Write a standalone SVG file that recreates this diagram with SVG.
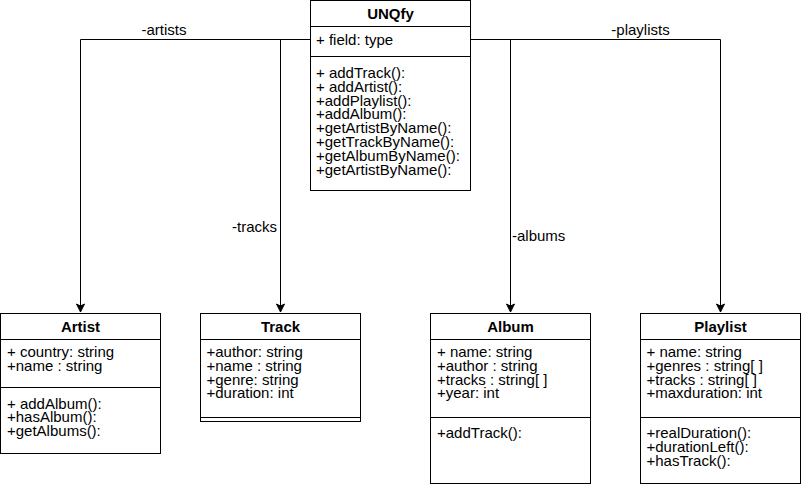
<svg xmlns="http://www.w3.org/2000/svg" width="801" height="487" viewBox="0 0 801 487">
<style>
.box{fill:#fff;stroke:#000;stroke-width:1}
.div{stroke:#000;stroke-width:1;fill:none}
.t{font-family:"Liberation Sans",Arial,sans-serif;font-size:15px;fill:#000}
.h{font-family:"Liberation Sans",Arial,sans-serif;font-size:15px;font-weight:bold;fill:#000;text-anchor:middle}
.edge{fill:none;stroke:#000;stroke-width:1}
.lbl{font-family:"Liberation Sans",Arial,sans-serif;font-size:15px;fill:#000}
</style>
<defs>
<marker id="arr" markerWidth="10" markerHeight="10" viewBox="0 0 10 10" refX="9" refY="5" orient="auto" markerUnits="userSpaceOnUse">
<path d="M1,1 L9,5 L1,9 L3,5 Z" fill="#000" stroke="#000" stroke-width="1"/>
</marker>
</defs>
<rect width="801" height="487" fill="#fff"/>
<g id="connectors">
<path class="edge" d="M310.5,39.5 H80.5 V312" marker-end="url(#arr)"/>
<path class="edge" d="M310.5,39.5 H280.5 V312" marker-end="url(#arr)"/>
<path class="edge" d="M470.5,39.5 H510.5 V312" marker-end="url(#arr)"/>
<path class="edge" d="M470.5,39.5 H720.5 V312" marker-end="url(#arr)"/>
<text class="lbl" x="164" y="35" text-anchor="middle">-artists</text>
<text class="lbl" x="277" y="232" text-anchor="end">-tracks</text>
<text class="lbl" x="512" y="241">-albums</text>
<text class="lbl" x="640.5" y="35" text-anchor="middle">-playlists</text>
</g>
<g id="UNQfy">
<rect class="box" x="310.5" y="0.5" width="160" height="190"/>
<path class="div" d="M310.5,26.5 H470.5 M310.5,56.5 H470.5"/>
<text class="h" x="390.5" y="18.5">UNQfy</text>
<text class="t" x="316" y="44.5">+ field: type</text>
<text class="t" y="78"><tspan x="316">+ addTrack():</tspan><tspan x="316" dy="13.8">+ addArtist():</tspan><tspan x="316" dy="13.8">+addPlaylist():</tspan><tspan x="316" dy="13.8">+addAlbum():</tspan><tspan x="316" dy="13.8">+getArtistByName():</tspan><tspan x="316" dy="13.8">+getTrackByName():</tspan><tspan x="316" dy="13.8">+getAlbumByName():</tspan><tspan x="316" dy="13.8">+getArtistByName():</tspan></text>
</g>
<g id="Artist">
<rect class="box" x="0.5" y="313.5" width="160" height="140"/>
<path class="div" d="M0.5,339.5 H160.5 M0.5,387.5 H160.5"/>
<text class="h" x="80.5" y="331.5">Artist</text>
<text class="t" y="357"><tspan x="7">+ country: string</tspan><tspan x="7" dy="13.8">+name : string</tspan></text>
<text class="t" y="408.5"><tspan x="7">+ addAlbum():</tspan><tspan x="7" dy="13.8">+hasAlbum():</tspan><tspan x="7" dy="13.8">+getAlbums():</tspan></text>
</g>
<g id="Track">
<rect class="box" x="200.5" y="313.5" width="160" height="108"/>
<path class="div" d="M200.5,339.5 H360.5 M200.5,417.5 H360.5"/>
<text class="h" x="280.5" y="331.5">Track</text>
<text class="t" y="357"><tspan x="206.5">+author: string</tspan><tspan x="206.5" dy="13.8">+name : string</tspan><tspan x="206.5" dy="13.8">+genre: string</tspan><tspan x="206.5" dy="13.8">+duration: int</tspan></text>
</g>
<g id="Album">
<rect class="box" x="430.5" y="313.5" width="160" height="170"/>
<path class="div" d="M430.5,339.5 H590.5 M430.5,417.5 H590.5"/>
<text class="h" x="510.5" y="331.5">Album</text>
<text class="t" y="357"><tspan x="437">+ name: string</tspan><tspan x="437" dy="13.8">+author : string</tspan><tspan x="437" dy="13.8">+tracks : string[ ]</tspan><tspan x="437" dy="13.8">+year: int</tspan></text>
<text class="t" x="437" y="438">+addTrack():</text>
</g>
<g id="Playlist">
<rect class="box" x="640.5" y="313.5" width="160" height="170"/>
<path class="div" d="M640.5,339.5 H800.5 M640.5,417.5 H800.5"/>
<text class="h" x="720.5" y="331.5">Playlist</text>
<text class="t" y="357"><tspan x="646.5">+ name: string</tspan><tspan x="646.5" dy="13.8">+genres : string[ ]</tspan><tspan x="646.5" dy="13.8">+tracks : string[ ]</tspan><tspan x="646.5" dy="13.8">+maxduration: int</tspan></text>
<text class="t" y="438"><tspan x="646.5">+realDuration():</tspan><tspan x="646.5" dy="13.8">+durationLeft():</tspan><tspan x="646.5" dy="13.8">+hasTrack():</tspan></text>
</g>
</svg>
